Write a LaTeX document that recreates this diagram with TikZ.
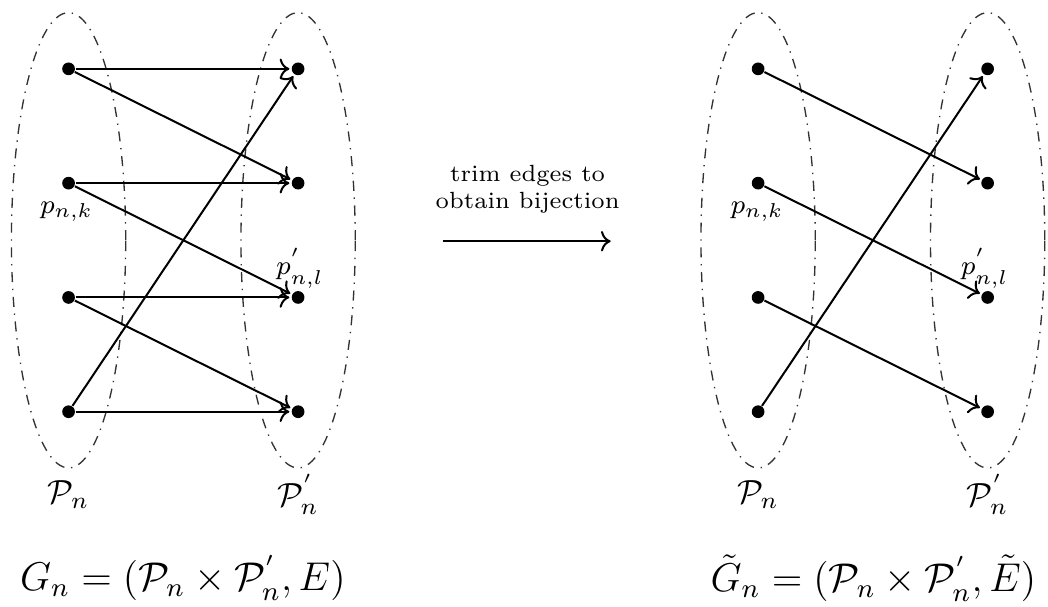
\documentclass[tikz,border=0pt]{standalone}
\usepackage{amsmath,amssymb}
\usepackage{tikz}
\usetikzlibrary{arrows.meta,calc,positioning}

\begin{document}
\begin{tikzpicture}[
  pt/.style={circle,fill,inner sep=0pt,minimum size=3.8pt},
  part/.style={draw,dash dot,thin,black!80},
  arr/.style={->,semithick,shorten >=0.5pt},
  lbl/.style={font=\footnotesize,inner sep=1pt}]
  \useasboundingbox (0,0) rectangle (11.004,6.363);
  % full graph G_n
  \draw[part] (0.72,3.84) ellipse (0.6 and 2.39);
  \draw[part] (3.13,3.84) ellipse (0.6 and 2.39);
  \node[pt] (l1) at (0.72,5.64) {};
  \node[pt] (l2) at (0.72,4.44) {};
  \node[pt] (l3) at (0.72,3.24) {};
  \node[pt] (l4) at (0.72,2.04) {};
  \node[pt] (r1) at (3.13,5.64) {};
  \node[pt] (r2) at (3.13,4.44) {};
  \node[pt] (r3) at (3.13,3.24) {};
  \node[pt] (r4) at (3.13,2.04) {};
  \draw[arr] (l1) -- (r1);
  \draw[arr] (l1) -- (r2);
  \draw[arr] (l2) -- (r2);
  \draw[arr] (l2) -- (r3);
  \draw[arr] (l3) -- (r3);
  \draw[arr] (l3) -- (r4);
  \draw[arr] (l4) -- (r4);
  \draw[arr] (l4) -- (r1);
  \node[lbl] (pk) at (0.70,4.14) {$p_{n,k}$};
  \node[lbl] (pl) at (3.15,3.55) {$p^{'}_{n,l}$};
  \node (sl) at (0.72,1.17) {$\mathcal{P}_n$};
  \node (sr) at (3.13,1.17) {$\mathcal{P}^{'}_n$};
  \node[font=\large] (g) at (1.92,0.29) {$G_n = (\mathcal{P}_n \times \mathcal{P}^{'}_n, E)$};
  % trimming step
  \coordinate (m1) at (4.65,3.83);
  \coordinate (m2) at (6.43,3.83);
  \draw[arr] (m1) -- (m2);
  \node[font=\scriptsize,inner sep=1pt,align=center,above=0.25cm of $(m1)!0.5!(m2)$] (trim)
    {trim edges to\\obtain bijection};
  % bijection
  \draw[part] (7.96,3.84) ellipse (0.6 and 2.39);
  \draw[part] (10.37,3.84) ellipse (0.6 and 2.39);
  \node[pt] (a1) at (7.96,5.64) {};
  \node[pt] (a2) at (7.96,4.44) {};
  \node[pt] (a3) at (7.96,3.24) {};
  \node[pt] (a4) at (7.96,2.04) {};
  \node[pt] (b1) at (10.37,5.64) {};
  \node[pt] (b2) at (10.37,4.44) {};
  \node[pt] (b3) at (10.37,3.24) {};
  \node[pt] (b4) at (10.37,2.04) {};
  \draw[arr] (a1) -- (b2);
  \draw[arr] (a2) -- (b3);
  \draw[arr] (a3) -- (b4);
  \draw[arr] (a4) -- (b1);
  \node[lbl] (qk) at (7.95,4.14) {$p_{n,k}$};
  \node[lbl] (ql) at (10.34,3.55) {$p^{'}_{n,l}$};
  \node (tl) at (7.96,1.17) {$\mathcal{P}_n$};
  \node (tr) at (10.37,1.17) {$\mathcal{P}^{'}_n$};
  \node[font=\large] (gt) at (9.17,0.29) {$\tilde{G}_n = (\mathcal{P}_n \times \mathcal{P}^{'}_n, \tilde{E})$};
\end{tikzpicture}
\end{document}
